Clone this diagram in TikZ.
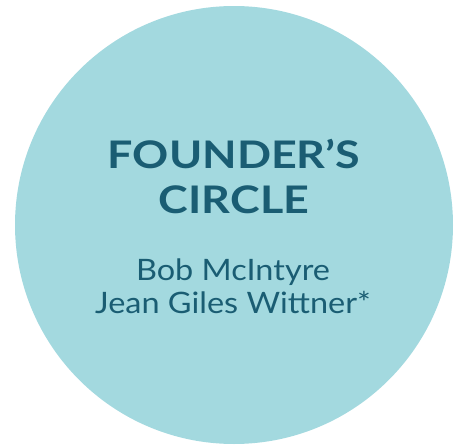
\documentclass[tikz,border=0pt]{standalone}
\usepackage{fontspec}
\setmainfont{Lato}
\newfontfamily\titlefont[FakeStretch=1.18]{Lato}
\newfontfamily\namefont[FakeStretch=1.1]{Lato}
\definecolor{circfill}{HTML}{A3D9DF}
\definecolor{txtcol}{HTML}{1A5D73}
\begin{document}
\begin{tikzpicture}[x=1pt,y=-1pt,
  titletxt/.style={text=txtcol,font=\titlefont\fontsize{38}{45}\selectfont\bfseries,anchor=base,inner sep=0pt},
  nametxt/.style={text=txtcol,font=\namefont\fontsize{29.5}{33}\selectfont,anchor=base,inner sep=0pt}]
\useasboundingbox (0,0) rectangle (464,445);
\fill[circfill] (234,225) circle[radius=219];
\node[titletxt] (t1) at (234,168) {FOUNDER’S};
\node[titletxt] (t2) at (234,213) {CIRCLE};
\node[nametxt] (n1) at (233,280) {Bob McIntyre};
\node[nametxt] (n2) at (233,313) {Jean Giles Wittner*};
\end{tikzpicture}
\end{document}
